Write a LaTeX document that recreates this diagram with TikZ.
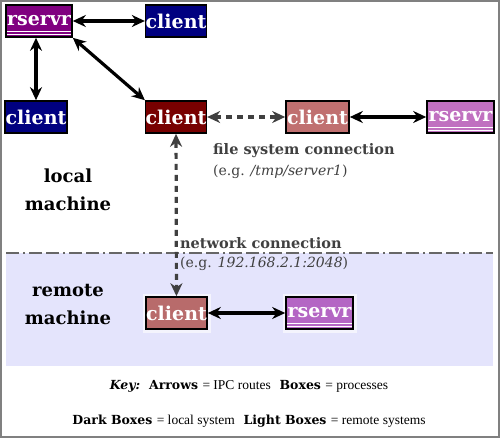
\documentclass[tikz,border=0pt]{standalone}
\usepackage{fontspec}
\newfontfamily\timesf{Liberation Serif}
\newfontfamily\dvs{DejaVu Serif}
\usetikzlibrary{arrows.meta}
\definecolor{rspurple}{HTML}{800080}
\definecolor{navyb}{HTML}{000080}
\definecolor{maroonb}{HTML}{780000}
\definecolor{lclient}{HTML}{C07070}
\definecolor{lrserv}{HTML}{C070C0}
\definecolor{rclient}{HTML}{B86B6B}
\definecolor{rrserv}{HTML}{B466C4}
\definecolor{dgray}{HTML}{404040}
\definecolor{band}{RGB}{228,228,252}
\definecolor{frame}{HTML}{808080}
\begin{document}
\begin{tikzpicture}[x=1pt,y=-1pt,
  box/.style={draw=black, line width=1.6pt, minimum height=32pt, inner sep=0pt,
    text=white, font=\dvs\fontsize{19}{19}\selectfont\bfseries},
  glow/.style={preaction={draw=white, line width=7pt, opacity=0.6}},
  ipc/.style={line width=3.2pt, {Stealth[length=13pt,width=12pt]}-{Stealth[length=13pt,width=12pt]}},
  net/.style={line width=3.2pt, draw=dgray, dash pattern=on 6pt off 5pt,
    {Stealth[length=13pt,width=12pt]}-{Stealth[length=13pt,width=12pt]}},
  lbl/.style={font=\dvs\fontsize{14.5}{14.5}\selectfont\bfseries, text=dgray, anchor=west, inner sep=0pt},
  sublbl/.style={font=\dvs\fontsize{14}{14}\selectfont, text=dgray, anchor=west, inner sep=0pt},
  mach/.style={font=\dvs\fontsize{18}{28}\selectfont\bfseries, align=center, inner sep=0pt},
  keytxt/.style={font=\fontsize{13.5}{13.5}\selectfont, inner sep=0pt},
  uline/.style={white, line width=1.3pt}]
\useasboundingbox (0,0) rectangle (500,438);
% background band
\fill[band] (6,253) rectangle (493,366);
\draw[frame!80!black, line width=1.6pt, dash pattern=on 13pt off 4pt on 2pt off 4pt on 13pt off 4pt]
  (6,253) -- (493,253);
% outer frame
\draw[frame, line width=2pt] (1,1) rectangle (499,437);

% boxes
\node[box, fill=rspurple, minimum width=66pt] (rs1) at (39,21) {rservr};
\node[box, fill=navyb, minimum width=60pt] (c1) at (176,21) {client};
\node[box, fill=navyb, minimum width=62pt] (c2) at (36,117) {client};
\node[box, fill=maroonb, minimum width=60pt] (c3) at (176,117) {client};
\node[box, fill=lclient, minimum width=63pt] (c4) at (317.5,117) {client};
\node[box, fill=lrserv, minimum width=67pt] (rs2) at (460.5,117) {rservr};
\node[box, glow, fill=rclient, minimum width=61pt] (c5) at (176.5,313) {client};
\node[box, glow, fill=rrserv, minimum width=67pt] (rs3) at (319.5,313) {rservr};

% underlines of rservr
\foreach \n in {rs1,rs2,rs3}{
  \draw[uline] ([shift={(2,-6)}]\n.south west) -- ([shift={(-2,-6)}]\n.south east);
  \draw[uline] ([shift={(2,-3.5)}]\n.south west) -- ([shift={(-2,-3.5)}]\n.south east);
}

% connectors
\draw[ipc] (rs1) -- (c1);
\draw[ipc] (rs1.south -| c2.north) -- (c2.north);
\draw[ipc] (rs1.south east) -- (c3.north west);
\draw[net] (c3) -- (c4);
\draw[ipc] (c4) -- (rs2);
\draw[net] (c3) -- (c5);
\draw[ipc] (c5) -- (rs3);

% labels
\node[lbl] (fsl) at (213,151) {file system connection};
\node[sublbl] (fss) at (213,172) {(e.g. \textit{/tmp/server1})};
\node[lbl] (nwl) at (180,243) {network connection};
\node[sublbl] (nws) at (180,264) {(e.g. \textit{192.168.2.1:2048})};

\node[mach] (lm) at (68,190) {local\\machine};
\node[mach] (rm) at (68,305) {remote\\machine};

% key
\node[keytxt] (k1) at (249,386) {{\dvs\fontsize{12.5}{12.5}\selectfont\bfseries\itshape Key:}\ \ {\dvs\fontsize{12.5}{12.5}\selectfont\bfseries Arrows} {\timesf = IPC routes}\ \ {\dvs\fontsize{12.5}{12.5}\selectfont\bfseries Boxes} {\timesf = processes}};
\node[keytxt] (k2) at (249,421) {{\dvs\fontsize{12.5}{12.5}\selectfont\bfseries Dark Boxes} {\timesf = local system}\ \ {\dvs\fontsize{12.5}{12.5}\selectfont\bfseries Light Boxes} {\timesf = remote systems}};
\end{tikzpicture}
\end{document}
